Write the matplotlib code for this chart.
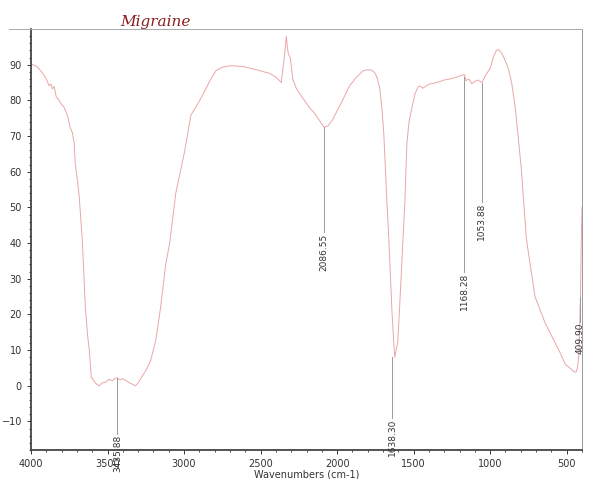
import matplotlib.pyplot as plt
from matplotlib.ticker import MultipleLocator
from matplotlib.lines import Line2D

# spectrum (wavenumber, %T)
wavenumber = [4000, 3960, 3928, 3900, 3882, 3870, 3860, 3849, 3835, 3816, 3800, 3783, 3760,
              3744, 3730, 3718, 3711, 3695, 3685, 3665, 3645, 3630, 3619, 3606, 3595,
              3586, 3570, 3554, 3535, 3514, 3490, 3468, 3450, 3435, 3420, 3402, 3380,
              3357, 3335, 3317, 3300, 3284, 3251, 3219, 3186, 3153, 3120, 3094, 3054,
              2995, 2956, 2897, 2864, 2831, 2792, 2750, 2700, 2615, 2529, 2437, 2400,
              2365, 2345, 2332, 2325, 2319, 2306, 2290, 2266, 2230, 2181, 2140, 2110,
              2086, 2060, 2030, 1995, 1965, 1920, 1873, 1830, 1800, 1775, 1755, 1740,
              1722, 1708, 1695, 1675, 1662, 1643, 1630, 1623, 1603, 1584, 1570, 1557,
              1544, 1530, 1511, 1490, 1470, 1458, 1440, 1426, 1400, 1370, 1347, 1300,
              1262, 1220, 1190, 1168, 1158, 1140, 1120, 1100, 1080, 1054, 1030, 1000,
              980, 960, 945, 929, 910, 882, 860, 836, 797, 763, 707, 641, 575, 540,
              509, 480, 454, 440, 430, 421, 410, 405, 400]
transmittance = [90.2, 89.5, 87.8, 86.0, 84.1, 84.6, 83.2, 83.9, 81.0, 80.0, 78.9, 78.0, 75.5,
                 72.4, 71.0, 68.0, 62.3, 57.0, 53.0, 41.0, 22.0, 14.0, 10.0, 2.3, 1.8,
                 1.2, 0.4, 0.0, 0.8, 1.0, 1.8, 1.4, 2.1, 2.2, 1.6, 2.0, 1.5,
                 0.8, 0.4, 0.0, 0.8, 2.0, 4.2, 7.0, 12.5, 22.0, 34.0, 40.0, 54.0,
                 66.0, 75.8, 80.0, 82.7, 85.5, 88.3, 89.3, 89.7, 89.5, 88.6, 87.5, 86.5,
                 85.0, 92.0, 98.0, 95.0, 93.0, 92.0, 86.0, 83.3, 81.0, 78.0, 76.0, 74.0,
                 72.5, 72.8, 74.5, 77.5, 80.0, 84.0, 86.5, 88.3, 88.6, 88.5, 87.8, 86.5,
                 83.6, 78.0, 70.7, 52.0, 41.0, 22.0, 12.0, 8.0, 12.6, 28.5, 41.0, 52.0,
                 68.0, 74.0, 78.0, 82.0, 83.8, 84.0, 83.4, 83.8, 84.5, 84.8, 85.0, 85.7,
                 86.0, 86.5, 87.0, 87.2, 85.5, 86.0, 84.7, 85.3, 85.7, 85.0, 87.0, 89.0,
                 92.0, 94.0, 94.2, 93.5, 92.0, 89.0, 85.0, 78.0, 61.0, 41.0, 25.0, 17.6,
                 12.0, 9.0, 6.0, 5.0, 4.0, 3.8, 5.0, 8.4, 25.0, 40.0, 50.0]

# labelled peaks
peak_wn = [3435.88, 2086.55, 1638.30, 1168.28, 1053.88, 409.90]
peak_t = [2.2, 72.5, 8.0, 86.5, 85.0, 25.0]
peak_labels = ['3435.88', '2086.55', '1638.30', '1168.28', '1053.88', '409.90']
line_end = [-13.4, 43.0, -9.0, 32.0, 51.5, 18.0]

fig = plt.figure(figsize=(6.12, 4.79), dpi=100)
ax = fig.add_axes([31 / 612, 1 - 450 / 479, 551 / 612, 421 / 479])

ax.plot(wavenumber, transmittance, color='#eaa6a6', lw=0.7)

for wn, t, lab, end in zip(peak_wn, peak_t, peak_labels, line_end):
    ax.plot([wn, wn], [t, end], color='#9a9a9a', lw=0.7)
    ax.text(wn, end - 0.3, lab, rotation=90, ha='center', va='top',
            fontsize=6.5, color='#333333')

ax.set_xlim(4000, 400)
ax.set_ylim(-18, 100)
ax.set_xticks([4000, 3500, 3000, 2500, 2000, 1500, 1000, 500])
ax.set_yticks([-10, 0, 10, 20, 30, 40, 50, 60, 70, 80, 90])
ax.xaxis.set_minor_locator(MultipleLocator(100))
ax.yaxis.set_minor_locator(MultipleLocator(2))
ax.tick_params(labelsize=7, colors='#333333', length=3, width=0.7)
ax.tick_params(which='minor', length=1.5, width=0.5)
ax.spines['left'].set_linewidth(1.3)
ax.spines['bottom'].set_linewidth(1.3)
ax.spines['left'].set_color('#444444')
ax.spines['bottom'].set_color('#444444')
ax.spines['top'].set_color('#aaaaaa')
ax.spines['top'].set_linewidth(0.7)
ax.spines['right'].set_color('#999999')
ax.spines['right'].set_linewidth(0.7)

ax.set_xlabel('Wavenumbers (cm-1)', fontsize=7, color='#333333', labelpad=0)

# long top rule of the scanned page
fig.add_artist(Line2D([9 / 612, 31 / 612], [1 - 29 / 479, 1 - 29 / 479],
                      color='#aaaaaa', lw=0.7))

fig.text(155 / 612, 1 - 22 / 479, 'Migraine', ha='center', va='center',
         fontsize=11, color='#8b1c1c', style='italic', family='DejaVu Serif')

fig.savefig('out.png', dpi=100)
